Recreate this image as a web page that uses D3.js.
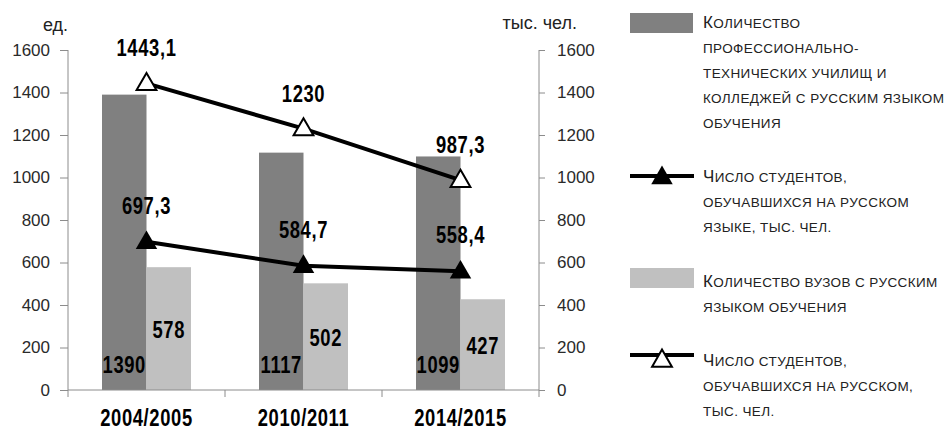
<!DOCTYPE html>
<html>
<head>
<meta charset="utf-8">
<script src="https://cdn.jsdelivr.net/npm/d3@7"></script>
<style>
  body { margin: 0; background: #fff; }
  svg { display: block; }
</style>
</head>
<body>
<svg id="chart" width="949" height="429"></svg>
<script>
// Academic years
const years = ["2004/2005", "2010/2011", "2014/2015"];
// Vocational schools and colleges teaching in Russian, units
const colleges = [1390, 1117, 1099];
// Universities teaching in Russian, units
const universities = [578, 502, 427];
// Students taught in Russian, thousand people
const studentsInRussian = [1443.1, 1230, 987.3];
// Students studying the Russian language, thousand people
const studentsRussianLanguage = [697.3, 584.7, 558.4];
// Axis ticks (both axes share the same range)
const axisTicks = [0, 200, 400, 600, 800, 1000, 1200, 1400, 1600];
const leftUnit = "ед.";
const rightUnit = "тыс. чел.";

// Legend entries
const legendColleges = ["Количество", "профессионально-", "технических училищ и", "колледжей с русским языком", "обучения"];
const legendRussianLanguage = ["Число студентов,", "обучавшихся на русском", "языке, тыс. чел."];
const legendUniversities = ["Количество вузов с русским", "языком обучения"];
const legendInRussian = ["Число студентов,", "обучавшихся на русском,", "тыс. чел."];

const svg = d3.select("#chart");
const darkGray = "#808080";
const lightGray = "#c0c0c0";
const axisGray = "#8c8c8c";
const textFont = "'Liberation Sans', Arial, sans-serif";

const plotLeft = 68, plotRight = 539, plotTop = 50, plotBottom = 390;

const x0 = d3.scaleBand().domain(years).range([plotLeft, plotRight]).paddingInner(0).paddingOuter(0);
const x1 = d3.scaleBand().domain(["colleges", "universities"]).range([0, x0.bandwidth()]).paddingInner(0).paddingOuter(0.764);
const yLeft = d3.scaleLinear().domain([0, 1600]).range([plotBottom, plotTop]);
const yRight = d3.scaleLinear().domain([0, 1600]).range([plotBottom, plotTop]);

const fmt = v => String(v).replace(".", ",");

// Heavy, condensed label text
function boldLabel(parent, x, y, text) {
  parent.append("text")
    .attr("transform", `translate(${x},${y}) scale(0.8,1)`)
    .attr("text-anchor", "middle")
    .style("font-family", textFont)
    .style("font-weight", "bold")
    .style("font-size", "23px")
    .style("letter-spacing", "0.8px")
    .attr("fill", "#000")
    .text(text);
}

// Left axis
const leftAxis = svg.append("g")
  .attr("transform", `translate(${plotLeft},0)`)
  .call(d3.axisLeft(yLeft).tickValues(axisTicks).tickSize(8).tickPadding(10).tickFormat(d3.format("d")));
// Right axis
const rightAxis = svg.append("g")
  .attr("transform", `translate(${plotRight},0)`)
  .call(d3.axisRight(yRight).tickValues(axisTicks).tickSize(6).tickPadding(12).tickFormat(d3.format("d")));

[leftAxis, rightAxis].forEach(a => {
  a.select(".domain").attr("stroke", axisGray).attr("d", `M0,${plotTop}V${plotBottom}`);
  a.selectAll(".tick line").attr("stroke", axisGray);
  a.selectAll(".tick text")
    .attr("fill", "#2a2a2a")
    .style("font-family", textFont)
    .style("font-size", "17px");
});

// Bars
const groups = svg.append("g").selectAll("g")
  .data(years)
  .join("g")
  .attr("transform", d => `translate(${x0(d)},0)`);

groups.append("rect")
  .attr("x", x1("colleges"))
  .attr("width", x1.bandwidth())
  .attr("y", (d, i) => yLeft(colleges[i]))
  .attr("height", (d, i) => yLeft(0) - yLeft(colleges[i]))
  .attr("fill", darkGray);

groups.append("rect")
  .attr("x", x1("universities"))
  .attr("width", x1.bandwidth())
  .attr("y", (d, i) => yLeft(universities[i]))
  .attr("height", (d, i) => yLeft(0) - yLeft(universities[i]))
  .attr("fill", lightGray);

// X axis
const xAxis = svg.append("g")
  .attr("transform", `translate(0,${plotBottom})`);
xAxis.append("line")
  .attr("x1", plotLeft).attr("x2", plotRight)
  .attr("stroke", axisGray);
const boundaries = years.map(d => x0(d)).concat([x0(years[years.length - 1]) + x0.bandwidth()]);
xAxis.selectAll("line.tk")
  .data(boundaries)
  .join("line")
  .attr("class", "tk")
  .attr("x1", d => d).attr("x2", d => d)
  .attr("y1", 0).attr("y2", 7)
  .attr("stroke", axisGray);
years.forEach(y => boldLabel(xAxis, x0(y) + x0.bandwidth() / 2, 36, y));

// Lines
const cx = d => x0(d) + x0.bandwidth() / 2;
const line = d3.line().x(d => cx(d.year)).y(d => yRight(d.value));
const seriesInRussian = years.map((y, i) => ({ year: y, value: studentsInRussian[i] }));
const seriesLanguage = years.map((y, i) => ({ year: y, value: studentsRussianLanguage[i] }));

const tri = d3.symbol().type(d3.symbolTriangle);

svg.append("path").datum(seriesInRussian)
  .attr("d", line).attr("fill", "none").attr("stroke", "#000").attr("stroke-width", 4);
svg.append("path").datum(seriesLanguage)
  .attr("d", line).attr("fill", "none").attr("stroke", "#000").attr("stroke-width", 4);

svg.append("g").selectAll("path")
  .data(seriesLanguage)
  .join("path")
  .attr("transform", d => `translate(${cx(d.year)},${yRight(d.value) + 1})`)
  .attr("d", tri.size(200)())
  .attr("fill", "#000");

svg.append("g").selectAll("path")
  .data(seriesInRussian)
  .join("path")
  .attr("transform", d => `translate(${cx(d.year)},${yRight(d.value) + 1})`)
  .attr("d", tri.size(170)())
  .attr("fill", "#fff")
  .attr("stroke", "#000")
  .attr("stroke-width", 2);

// Value labels
const labels = svg.append("g");
seriesInRussian.forEach(d => boldLabel(labels, cx(d.year), yRight(d.value) - 27, fmt(d.value)));
seriesLanguage.forEach(d => boldLabel(labels, cx(d.year), yRight(d.value) - 28, fmt(d.value)));
years.forEach((y, i) => {
  boldLabel(labels, x0(y) + x1("colleges") + x1.bandwidth() / 2, yLeft(0) - 17, fmt(colleges[i]));
  boldLabel(labels, x0(y) + x1("universities") + x1.bandwidth() / 2, (yLeft(universities[i]) + yLeft(0)) / 2 + 9, fmt(universities[i]));
});

// Axis units
svg.append("text").attr("x", 43).attr("y", 31)
  .style("font-family", textFont).style("font-size", "18px").attr("fill", "#222").text(leftUnit);
svg.append("text").attr("x", 577).attr("y", 29).attr("text-anchor", "end")
  .style("font-family", textFont).style("font-size", "18px").attr("fill", "#222").text(rightUnit);

// Legend
const legend = svg.append("g");
function smallCapsLine(x, y, str) {
  const t = legend.append("text").attr("x", x).attr("y", y)
    .style("font-family", textFont)
    .style("letter-spacing", "0.4px")
    .attr("fill", "#222");
  const runs = [];
  for (const ch of str) {
    const big = ch !== ch.toLowerCase();
    if (runs.length && runs[runs.length - 1].big === big) runs[runs.length - 1].s += ch;
    else runs.push({ big, s: ch });
  }
  runs.forEach(r => {
    t.append("tspan")
      .style("font-size", r.big ? "17px" : "13.5px")
      .style("text-transform", "uppercase")
      .text(r.s);
  });
}
function legendText(lines, x, y0, step) {
  lines.forEach((l, i) => smallCapsLine(x, y0 + i * step, l));
}

legend.append("rect").attr("x", 630).attr("y", 13).attr("width", 63).attr("height", 20).attr("fill", darkGray);
legendText(legendColleges, 703, 28, 25);

legend.append("line").attr("x1", 630).attr("x2", 694).attr("y1", 176).attr("y2", 176)
  .attr("stroke", "#000").attr("stroke-width", 4);
legend.append("path").attr("transform", "translate(662,178)").attr("d", tri.size(200)()).attr("fill", "#000");
legendText(legendRussianLanguage, 703, 182, 25);

legend.append("rect").attr("x", 630).attr("y", 268).attr("width", 64).attr("height", 20).attr("fill", lightGray);
legendText(legendUniversities, 703, 287, 25);

legend.append("line").attr("x1", 630).attr("x2", 694).attr("y1", 355).attr("y2", 355)
  .attr("stroke", "#000").attr("stroke-width", 4);
legend.append("path").attr("transform", "translate(662,361)").attr("d", tri.size(170)())
  .attr("fill", "#fff").attr("stroke", "#000").attr("stroke-width", 2);
legendText(legendInRussian, 703, 366, 25);
</script>
</body>
</html>
